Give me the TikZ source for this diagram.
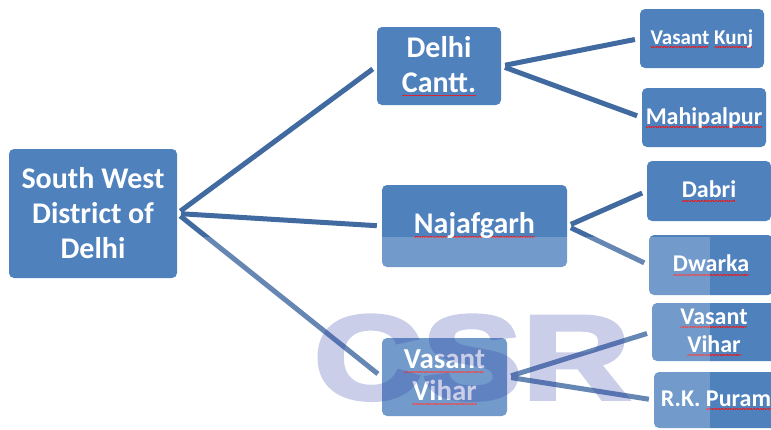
\documentclass[tikz,border=0pt]{standalone}
\usepackage{fontspec}
\setmainfont{Carlito}
\newfontfamily\wmfont[BoldFont={Liberation Sans Bold}, BoldFeatures={FakeBold=3}]{Liberation Sans}
\definecolor{boxblue}{RGB}{79,129,189}
\definecolor{linkblue}{RGB}{64,106,160}
\definecolor{spellred}{RGB}{215,40,50}
\definecolor{wmcolor}{RGB}{50,60,170}
\newcommand\redsq[1]{\setbox0\hbox{#1}\rlap{\color{spellred}\raisebox{-3pt}{\hbox to\wd0{\leaders\hbox{\rule{0.7pt}{0.4pt}\rule[0.4pt]{0.7pt}{0.4pt}}\hfil}}}\box0\relax}
\tikzset{
  box/.style={fill=boxblue, rounded corners=5pt, text=white, align=center,
    inner sep=0pt, font=\bfseries},
  lvlone/.style={box, font=\bfseries\fontsize{30}{35}\selectfont},
  lvltwo/.style={box, font=\bfseries\fontsize{30}{35}\selectfont},
  lvlthree/.style={box, font=\bfseries\fontsize{24}{28}\selectfont},
  link/.style={draw=linkblue, line width=5pt, shorten <=4pt, shorten >=5pt}
}
\begin{document}
\begin{tikzpicture}[x=1pt,y=-1pt]
\useasboundingbox (0,0) rectangle (771,429);
% nodes
\node[lvlone, minimum width=168pt, minimum height=129pt] (root) at (93,213.5)
  {South West\\District of\\Delhi};
\node[lvltwo, minimum width=124pt, minimum height=78pt] (dc) at (439,66)
  {Delhi\\\redsq{Cantt.}};
\node[lvltwo, minimum width=185pt, minimum height=82pt] (naj) at (474.5,226)
  {\redsq{Najafgarh}};
\node[lvltwo, minimum width=125pt, minimum height=78pt, font=\bfseries\fontsize{29}{32}\selectfont] (vv) at (444.5,377)
  {\redsq{Vasant}\\\redsq{Vihar}};
\node[lvlthree, minimum width=124pt, minimum height=59pt, font=\bfseries\fontsize{21}{25}\selectfont] (vk) at (702,38.5)
  {\redsq{Vasant} \redsq{Kunj}};
\node[lvlthree, minimum width=124pt, minimum height=59pt] (mah) at (704,117.5)
  {\redsq{Mahipalpur}};
\node[lvlthree, minimum width=124pt, minimum height=60pt] (dab) at (709,191)
  {\redsq{Dabri}};
\node[lvlthree, minimum width=124pt, minimum height=60pt] (dwa) at (711,265)
  {\redsq{Dwarka}};
\node[lvlthree, minimum width=124pt, minimum height=58pt] (vv2) at (714,332)
  {\redsq{Vasant}\\\redsq{Vihar}};
\node[lvlthree, minimum width=124pt, minimum height=56pt] (rk) at (716,400)
  {R.K. \redsq{Puram}};
% connectors
\draw[link] (root.east) -- (dc.west);
\draw[link] (root.east) -- (naj.west);
\draw[link] (root.east) -- (vv.west);
\draw[link] (dc.east) -- (vk.west);
\draw[link] (dc.east) -- (mah.west);
\draw[link] (naj.east) -- (dab.west);
\draw[link] (naj.east) -- (dwa.west);
\draw[link] (vv.east) -- (vv2.west);
\draw[link] (vv.east) -- (rk.west);
% light veil over lower part
\fill[white, opacity=0.2] (195,237) rectangle (710,429);
% watermark
\begin{scope}[transparency group, opacity=0.25]
\node[anchor=base, font=\wmfont\bfseries\fontsize{120}{120}\selectfont,
  text=wmcolor, xscale=1.25, inner sep=0pt] (wm) at (472,399) {CSR};
\end{scope}
\end{tikzpicture}
\end{document}
